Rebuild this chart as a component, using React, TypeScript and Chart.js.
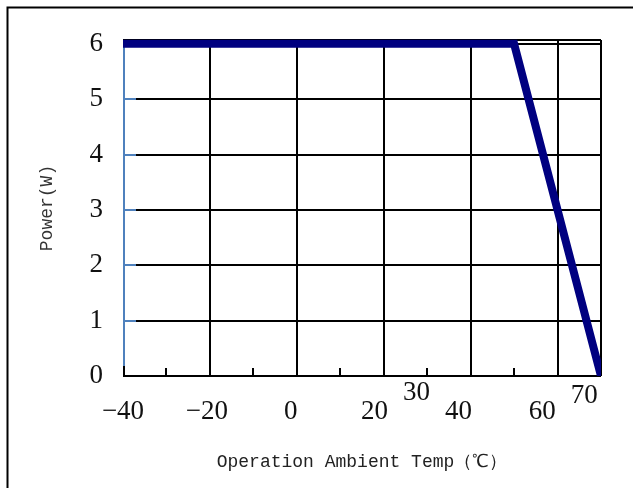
import React, { useEffect, useRef } from "react";
import { Chart, registerables } from "chart.js";

Chart.register(...registerables);

// ---- data ----
const tempC = [-40, 50, 70];
const powerW = [6, 6, 0];
const gridTemps = [-20, 0, 20, 40, 60, 70];
const minorTemps = [-30, -10, 10, 30, 50];
const powerTicks = [0, 1, 2, 3, 4, 5, 6];
const xLabelValues = [-40, -20, 0, 20, 30, 40, 60, 70];
const raisedLabels = [30, 70];
const xTitle = "Operation Ambient Temp（℃）";
const yTitle = "Power(W)";

const fmt = (v: number) => (v < 0 ? "\u2212" + Math.abs(v) : String(v));

const decor = {
  id: "decor",
  beforeDraw(chart: any) {
    const { ctx, width, height } = chart;
    ctx.save();
    ctx.strokeStyle = "#000";
    ctx.lineWidth = 2;
    ctx.beginPath();
    ctx.moveTo(7.5, height);
    ctx.lineTo(7.5, 7.5);
    ctx.lineTo(width, 7.5);
    ctx.stroke();
    ctx.restore();
  },
  beforeDatasetsDraw(chart: any) {
    const { ctx, chartArea, scales } = chart;
    const { left, right, top, bottom } = chartArea;
    const x = scales.x;
    const y = scales.y;
    const seg = (x1: number, y1: number, x2: number, y2: number) => {
      ctx.beginPath();
      ctx.moveTo(x1, y1);
      ctx.lineTo(x2, y2);
      ctx.stroke();
    };
    ctx.save();
    ctx.strokeStyle = "#000";
    ctx.lineWidth = 2;
    seg(left, top, right, top);
    minorTemps.forEach((v) => {
      const px = Math.round(x.getPixelForValue(v));
      seg(px, bottom, px, bottom - 8);
    });
    seg(left + 1, bottom + 1, left + 1, bottom - 10);
    ctx.strokeStyle = "#4F81BD";
    seg(left + 1, top, left + 1, bottom - 10);
    powerTicks
      .filter((v) => v > 0 && v < 6)
      .forEach((v) => {
        const py = Math.round(y.getPixelForValue(v));
        seg(left, py, left + 13, py);
      });
    ctx.restore();
  },
};

export default function App() {
  const ref = useRef<HTMLCanvasElement | null>(null);
  useEffect(() => {
    if (!ref.current) return;
    const chart = new Chart(ref.current, {
      type: "line",
      data: {
        datasets: [
          {
            data: tempC.map((t, i) => ({ x: t, y: powerW[i] })),
            borderColor: "#000080",
            borderWidth: 8,
            pointRadius: 0,
            tension: 0,
            fill: false,
            borderJoinStyle: "miter",
            clip: { left: 10, top: 1, right: 0, bottom: 0 },
          } as any,
        ],
      },
      options: {
        responsive: false,
        animation: false,
        layout: { padding: { left: 23, right: 32, top: 40, bottom: 15 } },
        plugins: { legend: { display: false }, tooltip: { enabled: false } },
        scales: {
          x: {
            type: "linear",
            position: "bottom",
            min: -40,
            max: 70,
            afterBuildTicks: (s: any) => {
              s.ticks = gridTemps.map((v) => ({ value: v }));
            },
            afterFit: (s: any) => {
              s.height = 0;
            },
            ticks: { display: false },
            border: { display: false },
            grid: { color: "#000", lineWidth: 2, drawTicks: false },
          },
          xl: {
            type: "linear",
            position: "bottom",
            min: -40,
            max: 74,
            afterBuildTicks: (s: any) => {
              s.ticks = xLabelValues.map((v) => ({ value: v }));
            },
            afterFit: (s: any) => {
              s.height = 97;
            },
            border: { display: false },
            grid: { display: false, drawTicks: false },
            ticks: {
              autoSkip: false,
              maxRotation: 0,
              minRotation: 0,
              padding: 6,
              color: "#111",
              font: (c: any) => ({
                family: "'Liberation Serif', serif",
                size: 27,
                lineHeight:
                  c.tick && c.tick.value === 30
                    ? "21px"
                    : c.tick && c.tick.value === 70
                    ? "28px"
                    : "20px",
              }),
              callback: (v: any) =>
                raisedLabels.includes(Number(v)) ? fmt(Number(v)) : ["", fmt(Number(v))],
            },
            title: {
              display: true,
              text: xTitle,
              color: "#222",
              font: { family: "'Liberation Mono', monospace", size: 18 },
              padding: { top: 0, bottom: 0 },
            },
          },
          y: {
            type: "linear",
            position: "left",
            min: 0,
            max: 6.07,
            afterBuildTicks: (s: any) => {
              s.ticks = powerTicks.map((v) => ({ value: v }));
            },
            afterFit: (s: any) => {
              s.width = 100;
            },
            border: { display: false },
            grid: { color: "#000", lineWidth: 2, drawTicks: false },
            ticks: {
              padding: 20,
              color: "#111",
              font: { family: "'Liberation Serif', serif", size: 27 },
              callback: (v: any) => String(v),
            },
            title: {
              display: true,
              text: yTitle,
              color: "#333",
              font: { family: "'Liberation Mono', monospace", size: 18 },
              padding: { top: 13, bottom: 0 },
            },
          },
        },
      },
      plugins: [decor as any],
    });
    return () => chart.destroy();
  }, []);
  return (
    <div style={{ position: "absolute", left: 0, top: 0, width: 633, height: 488, background: "#fff" }}>
      <canvas ref={ref} width={633} height={488} />
    </div>
  );
}
